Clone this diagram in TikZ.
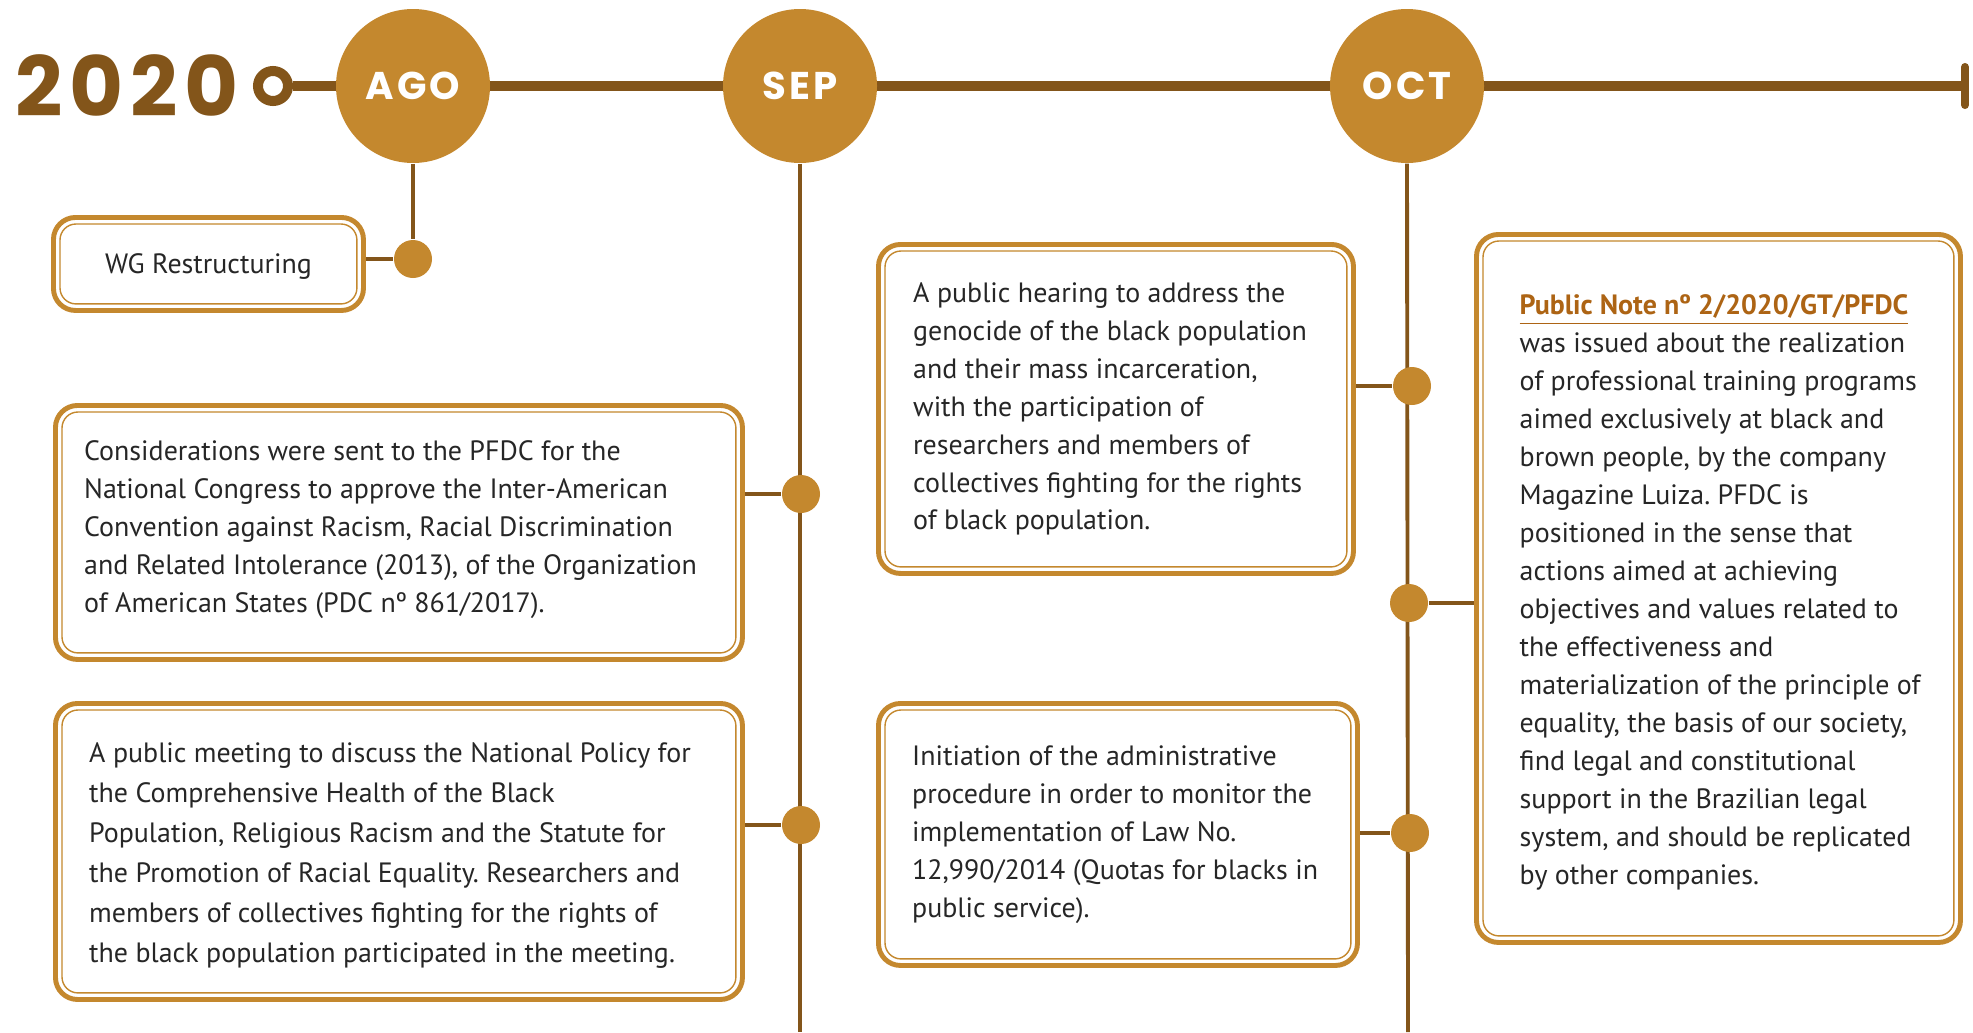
\documentclass[tikz,border=0pt]{standalone}
\usepackage{fontspec}
\setmainfont{PT Sans}
\newfontfamily\headfam[LetterSpace=8]{Poppins}
\usetikzlibrary{positioning}
\usetikzlibrary{backgrounds}
\definecolor{goldColor}{HTML}{C4882E}
\definecolor{lineColor}{HTML}{83551A}
\definecolor{textColor}{HTML}{262626}
\definecolor{noteColor}{HTML}{AD6414}
\newcommand{\evfont}{\frenchspacing\fontsize{7.95}{10.8}\selectfont}
\newcommand{\yearfont}{\headfam\bfseries\fontsize{23.6}{28}\selectfont}
\newcommand{\monthfont}{\headfam\bfseries\fontsize{11}{13}\selectfont}

\begin{document}
\begin{tikzpicture}[x=0.1mm, y=-0.1mm]

            \tikzstyle{month} = [circle, fill=goldColor, minimum size=15.4mm, inner sep=0pt, text=white, font=\monthfont];
            \tikzstyle{eventDot} = [circle, fill=goldColor, minimum size=3.8mm, inner sep=0pt];
            \tikzstyle{eventBox} = [draw=goldColor, line width=1.4pt, rounded corners=2.2mm, fill=white, anchor=north west, inner sep=0pt];
            \tikzstyle{innerLine} = [draw=goldColor, line width=0.4pt, rounded corners=1.6mm];
            \tikzstyle{evText} = [anchor=west, inner sep=0pt, align=left, text=textColor, font=\evfont];
            \tikzstyle{mainLine} = [draw=lineColor, line width=2.85pt];
            \tikzstyle{stem} = [draw=lineColor, line width=1.1pt];

            \useasboundingbox (0,0) rectangle (1973,1032);

            % year and months
            \node[anchor=base west, inner sep=0pt, text=lineColor, font=\yearfont] (year) at (15,116) {2020};
            \node[circle, draw=lineColor, line width=2.85pt, fill=white, minimum size=3mm, inner sep=0pt] (start) at (273,86) {};
            \coordinate (stop) at (1965,86);

            \node[month] (ago) at (413,86) {AGO};
            \node[month] (sep) at (800,86) {SEP};
            \node[month] (oct) at (1407,86) {OCT};

            % event dots
            \node[eventDot] (d1) at (413,259) {};
            \node[eventDot] (d2) at (801,494) {};
            \node[eventDot] (d3) at (801,825) {};
            \node[eventDot] (d4) at (1412,386) {};
            \node[eventDot] (d5) at (1409,603) {};
            \node[eventDot] (d6) at (1410,833) {};
            \coordinate (sepEnd) at (800,1032);
            \coordinate (octEnd) at (1408,1032);

            % event boxes
            \node[eventBox, minimum width=31mm, minimum height=9.3mm] (wg) at (51,215) {};
            \node[eventBox, minimum width=68.7mm, minimum height=25.4mm] (cons) at (53,403) {};
            \node[eventBox, minimum width=68.7mm, minimum height=29.6mm] (meet) at (53,701) {};
            \node[eventBox, minimum width=47.5mm, minimum height=32.9mm] (hear) at (876,242) {};
            \node[eventBox, minimum width=47.9mm, minimum height=26.2mm] (init) at (876,701) {};
            \node[eventBox, minimum width=48.4mm, minimum height=70.8mm] (note) at (1474,232) {};

            \foreach \b in {wg,cons,meet,hear,init,note}
              \draw[innerLine] ([shift={(9,9)}]\b.north west) rectangle ([shift={(-9,-9)}]\b.south east);

            \node[evText, anchor=center] (wgText) at ([yshift=-0.25mm]wg.center) {WG Restructuring};
            \node[evText] (consText) at ([xshift=3.05mm, yshift=0.25mm]cons.west) {Considerations were sent to the PFDC for the\\National Congress to approve the Inter-American\\Convention against Racism, Racial Discrimination\\and Related Intolerance (2013), of the Organization\\of American States (PDC nº 861/2017).};
            \node[evText, font=\frenchspacing\fontsize{7.95}{11.4}\selectfont] (meetText) at ([xshift=3.55mm, yshift=-0.4mm]meet.west) {A public meeting to discuss the National Policy for\\the Comprehensive Health of the Black\\Population, Religious Racism and the Statute for\\the Promotion of Racial Equality. Researchers and\\members of collectives fighting for the rights of\\the black population participated in the meeting.};
            \node[evText] (hearText) at ([xshift=3.65mm]hear.west) {A public hearing to address the\\genocide of the black population\\and their mass incarceration,\\with the participation of\\researchers and members of\\collectives fighting for the rights\\of black population.};
            \node[evText] (initText) at ([xshift=3.55mm]init.west) {Initiation of the administrative\\procedure in order to monitor the\\implementation of Law No.\\12,990/2014 (Quotas for blacks in\\public service).};
            \node[evText] (noteText) at ([xshift=4.5mm, yshift=-0.4mm]note.west) {{\bfseries\color{noteColor}\underline{Public Note nº 2/2020/GT/PFDC}}\\was issued about the realization\\of professional training programs\\aimed exclusively at black and\\brown people, by the company\\Magazine Luiza. PFDC is\\positioned in the sense that\\actions aimed at achieving\\objectives and values related to\\the effectiveness and\\materialization of the principle of\\equality, the basis of our society,\\find legal and constitutional\\support in the Brazilian legal\\system, and should be replicated\\by other companies.};

            \begin{scope}[on background layer]
              \draw[mainLine] (start.east) -- (stop);
              \draw[stem] (ago.south) -- (d1);
              \draw[stem] (sep.south) -- (sepEnd);
              \draw[stem] (oct.south) -- (octEnd);
              \draw[stem] (d1 -| wg.east) -- (d1);
              \draw[stem] (d2 -| cons.east) -- (d2);
              \draw[stem] (d3 -| meet.east) -- (d3);
              \draw[stem] (d4 -| hear.east) -- (d4);
              \draw[stem] (d5) -- (d5 -| note.west);
              \draw[stem] (d6 -| init.east) -- (d6);
            \end{scope}
            \draw[lineColor, line width=2.3pt, line cap=round] (stop) ++(0,-19) -- ++(0,38);
          \end{tikzpicture}
\end{document}
